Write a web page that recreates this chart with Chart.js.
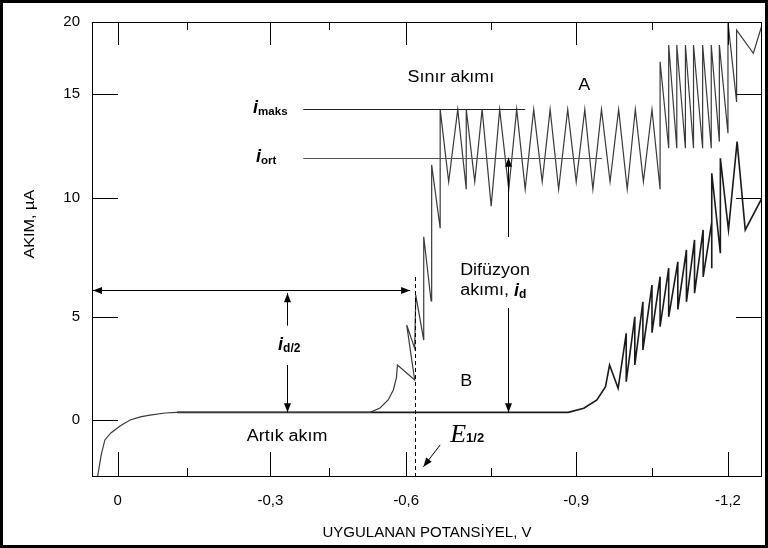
<!DOCTYPE html>
<html>
<head>
<meta charset="utf-8">
<script src="https://cdn.jsdelivr.net/npm/chart.js@4.4.1/dist/chart.umd.min.js"></script>
<style>
    html, body { margin: 0; padding: 0; background: #fff; }
    #wrap { width: 768px; height: 548px; }
</style>
</head>
<body>
<div id="wrap"><canvas id="polarogram" width="768" height="548"></canvas></div>
<script>
// Curve A: solution with the analyte (sawtooth = mercury drops)
const aVolts = [0.044, 0.036, 0.028, 0.015, -0.005, -0.027, -0.049, -0.070, -0.103, -0.129,
    -0.530, -0.549, -0.565, -0.575, -0.581, -0.583, -0.615, -0.601, -0.615, -0.617,
    -0.631, -0.631, -0.644, -0.645, -0.660, -0.660,
    -0.675, -0.691, -0.706, -0.706, -0.721, -0.734, -0.750, -0.765, -0.781, -0.795,
    -0.810, -0.825, -0.840, -0.854, -0.869, -0.885, -0.900, -0.917, -0.933, -0.950,
    -0.967, -0.984, -1.001, -1.017, -1.033, -1.050, -1.066,
    -1.066, -1.083, -1.083, -1.099, -1.099, -1.116, -1.116, -1.132, -1.132, -1.150,
    -1.150, -1.167, -1.167, -1.183, -1.183, -1.200, -1.200, -1.217, -1.217, -1.250, -1.267];
const aMicroamps = [-2.77, -1.70, -0.97, -0.63, -0.29, 0.00, 0.15, 0.24, 0.34, 0.37,
    0.37, 0.58, 0.97, 1.46, 2.04, 2.67, 1.94, 4.61, 3.48, 5.92,
    3.88, 8.37, 5.68, 11.59, 8.73, 14.26,
    10.78, 14.26, 10.42, 14.26, 10.78, 14.26, 9.66, 14.26, 10.42, 14.26,
    10.42, 14.26, 10.78, 14.26, 10.42, 14.26, 10.78, 14.26, 10.42, 14.26,
    10.78, 14.26, 10.42, 14.26, 10.78, 14.26, 10.42,
    17.24, 12.39, 18.40, 12.39, 18.40, 12.39, 18.40, 12.39, 18.40, 12.39,
    18.40, 12.39, 18.40, 12.71, 18.40, 13.11, 20.00, 14.62, 19.44, 17.83, 19.79];

// Curve B: supporting electrolyte only
const bVolts = [-0.129, -0.886, -0.915, -0.941, -0.958, -0.966, -0.983, -0.999, -0.999, -1.016,
    -1.016, -1.032, -1.032, -1.050, -1.050, -1.066, -1.066, -1.083, -1.083, -1.101,
    -1.101, -1.118, -1.118, -1.134, -1.134, -1.151, -1.151, -1.168, -1.168, -1.168,
    -1.185, -1.185, -1.201, -1.218, -1.234, -1.267];
const bMicroamps = [0.37, 0.37, 0.57, 0.97, 1.62, 2.67, 1.54, 4.21, 1.86, 5.01,
    2.67, 5.64, 3.40, 6.34, 4.24, 6.69, 4.53, 7.05, 5.01, 7.32,
    5.32, 7.82, 5.64, 8.24, 6.00, 8.66, 6.69, 8.99, 7.05, 11.19,
    7.68, 11.91, 8.66, 12.71, 8.66, 10.00];

const xTickValues = [0, -0.3, -0.6, -0.9, -1.2];
const xMinorTickValues = [-0.15, -0.45, -0.75, -1.05];
const yTickValues = [0, 5, 10, 15, 20];
const yRightTickValues = [5, 10, 15];

const textFont = "'Liberation Sans', Arial, sans-serif";

// the printed axes are not evenly spaced, so values go through knots
function bend(v, from, to) {
    const n = from.length;
    const dir = Math.sign(from[n - 1] - from[0]);
    let i = 0;
    while (i < n - 2 && (v - from[i + 1]) * dir > 0) i++;
    const t = (v - from[i]) / (from[i + 1] - from[i]);
    return to[i] + t * (to[i + 1] - to[i]);
}

function makeBentScale(id, values, stops) {
    class BentScale extends Chart.LinearScale {
        getPixelForValue(value) {
            return this.getPixelForDecimal(bend(value, values, stops));
        }
        getValueForPixel(pixel) {
            return bend(this.getDecimalForPixel(pixel), stops, values);
        }
    }
    BentScale.id = id;
    BentScale.defaults = Chart.LinearScale.defaults;
    Chart.register(BentScale);
}
makeBentScale('bentX',
    [0.056, 0, -0.15, -0.3, -0.45, -0.6, -0.75, -0.9, -1.05, -1.2, -1.267],
    [0, 0.0384, 0.1414, 0.2662, 0.3539, 0.4689, 0.5958, 0.7227, 0.8358, 0.9492, 1]);
makeBentScale('bentY',
    [-2.77, 0, 5, 10, 15, 20],
    [0, 0.1253, 0.3516, 0.6132, 0.8418, 1]);

function toPoints(xs, ys) {
    return xs.map((x, i) => ({ x: x, y: ys[i] }));
}

function line(ctx, x1, y1, x2, y2) {
    ctx.beginPath();
    ctx.moveTo(x1, y1);
    ctx.lineTo(x2, y2);
    ctx.stroke();
}

function arrowHead(ctx, x1, y1, x2, y2) {
    const a = Math.atan2(y2 - y1, x2 - x1);
    const len = 9, half = 3.5;
    ctx.beginPath();
    ctx.moveTo(x2, y2);
    ctx.lineTo(x2 - len * Math.cos(a) + half * Math.sin(a), y2 - len * Math.sin(a) - half * Math.cos(a));
    ctx.lineTo(x2 - len * Math.cos(a) - half * Math.sin(a), y2 - len * Math.sin(a) + half * Math.cos(a));
    ctx.closePath();
    ctx.fill();
}

function arrow(ctx, x1, y1, x2, y2, both) {
    line(ctx, x1, y1, x2, y2);
    arrowHead(ctx, x1, y1, x2, y2);
    if (both) arrowHead(ctx, x2, y2, x1, y1);
}

// writes text slightly widened like the scanned figure, returns its width
function say(ctx, text, x, y, size, opts) {
    opts = opts || {};
    const stretch = opts.stretch || 1.12;
    ctx.save();
    ctx.font = (opts.style || '') + ' ' + (opts.weight || '') + ' ' + size + 'px ' + (opts.family || textFont);
    ctx.textAlign = opts.align || 'left';
    ctx.textBaseline = opts.baseline || 'middle';
    ctx.translate(x, y);
    if (opts.rotate) ctx.rotate(opts.rotate);
    ctx.scale(stretch, 1);
    ctx.fillText(text, 0, 0);
    const w = ctx.measureText(text).width * stretch;
    ctx.restore();
    return w;
}

const notes = {
    id: 'notes',
    afterDatasetsDraw(chart) {
        const { ctx, chartArea: a, scales: { x, y } } = chart;
        const X = v => x.getPixelForValue(v);
        const Y = v => y.getPixelForValue(v);
        ctx.save();
        ctx.strokeStyle = '#000';
        ctx.fillStyle = '#000';
        ctx.lineWidth = 1;

        // plot frame and inward ticks
        ctx.strokeRect(a.left + 0.5, a.top + 0.5, a.width - 1, a.height - 1);
        xTickValues.forEach(v => {
            const px = Math.round(X(v)) + 0.5;
            line(ctx, px, a.bottom, px, a.bottom - 25);
            line(ctx, px, a.top, px, a.top + 23);
        });
        xMinorTickValues.forEach(v => {
            const px = Math.round(X(v)) + 0.5;
            line(ctx, px, a.bottom, px, a.bottom - 9);
            line(ctx, px, a.top, px, a.top + 8);
        });
        yTickValues.filter(v => v < 20).forEach(v => {
            const py = Math.round(Y(v)) + 0.5;
            line(ctx, a.left, py, a.left + 26, py);
        });
        yRightTickValues.forEach(v => {
            const py = Math.round(Y(v)) + 0.5;
            line(ctx, a.right - 26, py, a.right, py);
        });

        // y axis title, placed where the figure has it (above centre)
        say(ctx, 'AKIM, µA', 30, Y(8.9), 15, { align: 'center', rotate: -Math.PI / 2, stretch: 1.08 });

        // i_maks and i_ort levels
        ctx.strokeStyle = '#222';
        line(ctx, X(-0.384), Math.round(Y(14.26)) + 0.5, X(-0.81), Math.round(Y(14.26)) + 0.5);
        ctx.strokeStyle = '#555';
        line(ctx, X(-0.384), Math.round(Y(11.94)) + 0.5, X(-0.951), Math.round(Y(11.94)) + 0.5);
        ctx.strokeStyle = '#000';

        // half-wave: horizontal double arrow and i_d/2
        const hy = Math.round(Y(6.13)) + 0.5;
        arrow(ctx, X(0.056) + 1, hy, X(-0.607), hy, true);
        const hx = Math.round(X(-0.342)) + 0.5;
        arrow(ctx, hx, Y(4.58), hx, Y(6.0));
        arrow(ctx, hx, Y(2.67), hx, Y(0.37));

        // diffusion current arrow
        const dx = Math.round(X(-0.7805)) + 0.5;
        arrow(ctx, dx, Y(8.36), dx, Y(11.94));
        arrow(ctx, dx, Y(5.38), dx, Y(0.37));

        // E1/2 dashed line and pointer
        ctx.setLineDash([4, 3]);
        const ex = Math.round(X(-0.616)) + 0.5;
        line(ctx, ex, Y(6.68), ex, a.bottom);
        ctx.setLineDash([]);
        arrow(ctx, X(-0.66), Y(-1.21), X(-0.6305), Y(-2.27));

        // labels
        say(ctx, 'Sınır akımı', X(-0.679), Y(16.11), 16, { align: 'center' });
        say(ctx, 'A', X(-0.916), Y(15.56), 16, { align: 'center' });

        let w = say(ctx, 'i', X(-0.269), Y(14.26) + 4, 18, { style: 'italic', weight: 'bold', baseline: 'alphabetic', stretch: 1 });
        say(ctx, 'maks', X(-0.269) + w, Y(14.26) + 6, 11, { weight: 'bold', baseline: 'alphabetic', stretch: 1.05 });
        w = say(ctx, 'i', X(-0.2743), Y(11.94) + 4, 18, { style: 'italic', weight: 'bold', baseline: 'alphabetic', stretch: 1 });
        say(ctx, 'ort', X(-0.2743) + w, Y(11.94) + 6, 11, { weight: 'bold', baseline: 'alphabetic', stretch: 1.05 });

        say(ctx, 'Difüzyon', X(-0.6953), Y(6.97), 16);
        w = say(ctx, 'akımı, ', X(-0.6953), Y(6.09), 16);
        const w2 = say(ctx, 'i', X(-0.6953) + w, Y(6.09) + 5, 18, { style: 'italic', weight: 'bold', baseline: 'alphabetic', stretch: 1 });
        say(ctx, 'd', X(-0.6953) + w + w2, Y(6.09) + 7, 12, { weight: 'bold', baseline: 'alphabetic', stretch: 1 });

        say(ctx, 'B', X(-0.6953), Y(1.86), 16);
        say(ctx, 'Artık akım', X(-0.3427), Y(-0.83), 16, { align: 'center' });

        w = say(ctx, 'i', X(-0.3197), Y(3.64) + 5, 18, { style: 'italic', weight: 'bold', baseline: 'alphabetic', stretch: 1 });
        say(ctx, 'd/2', X(-0.3197) + w, Y(3.64) + 7, 12, { weight: 'bold', baseline: 'alphabetic', stretch: 1 });

        w = say(ctx, 'E', X(-0.6777), Y(-1.07), 26, { style: 'italic', family: "'Liberation Serif', 'Times New Roman', serif", baseline: 'alphabetic', stretch: 1 });
        say(ctx, '1/2', X(-0.6777) + w, Y(-1.07), 13, { weight: 'bold', baseline: 'alphabetic', stretch: 1 });

        // outer frame of the figure
        ctx.lineWidth = 3;
        ctx.strokeRect(1.5, 1.5, chart.width - 3, chart.height - 3);
        ctx.restore();
    }
};

new Chart(document.getElementById('polarogram'), {
    type: 'scatter',
    data: {
        datasets: [
            {
                label: 'A',
                data: toPoints(aVolts, aMicroamps),
                showLine: true,
                borderColor: '#3a3a3a',
                borderWidth: 1.2,
                pointRadius: 0,
                tension: 0,
            },
            {
                label: 'B',
                data: toPoints(bVolts, bMicroamps),
                showLine: true,
                borderColor: '#1a1a1a',
                borderWidth: 1.6,
                pointRadius: 0,
                tension: 0,
            },
        ],
    },
    options: {
        responsive: false,
        animation: false,
        events: [],
        layout: {
            padding: { left: 0, right: 6, top: 22, bottom: 0 },
        },
        plugins: {
            legend: { display: false },
            tooltip: { enabled: false },
        },
        scales: {
            x: {
                type: 'bentX',
                min: -1.267,
                max: 0.056,
                grid: { display: false, drawTicks: false },
                border: { display: false },
                afterBuildTicks: scale => { scale.ticks = xTickValues.map(value => ({ value })); },
                afterFit: scale => { scale.height = 71; },
                ticks: {
                    color: '#000',
                    padding: 15,
                    autoSkip: false,
                    maxRotation: 0,
                    font: { family: textFont, size: 15 },
                    callback: v => v === 0 ? '0' : v.toFixed(1).replace('.', ','),
                },
                title: {
                    display: true,
                    text: 'UYGULANAN POTANSİYEL, V',
                    color: '#000',
                    font: { family: textFont, size: 15 },
                    padding: { top: 0, bottom: 6 },
                },
            },
            y: {
                type: 'bentY',
                min: -2.77,
                max: 20,
                grid: { display: false, drawTicks: false },
                border: { display: false },
                afterBuildTicks: scale => { scale.ticks = yTickValues.map(value => ({ value })); },
                afterFit: scale => { scale.width = 92; },
                ticks: {
                    color: '#000',
                    padding: 12,
                    autoSkip: false,
                    font: { family: textFont, size: 15 },
                    callback: v => String(v),
                },
            },
        },
    },
    plugins: [notes],
});
</script>
</body>
</html>
